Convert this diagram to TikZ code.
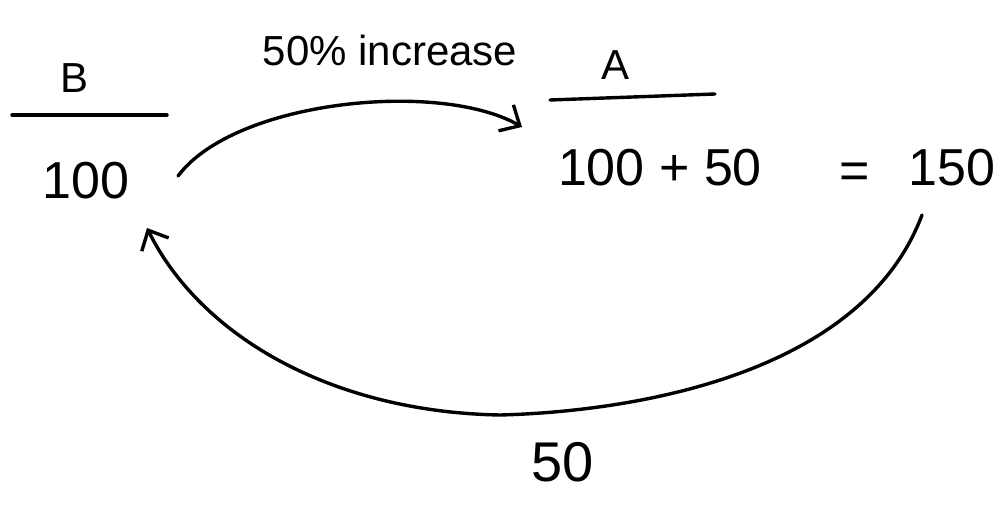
\documentclass[tikz,border=0pt]{standalone}
\usepackage{fontspec}
\setmainfont{Liberation Sans}
\usetikzlibrary{arrows.meta}
\begin{document}
\begin{tikzpicture}[x=1pt,y=-1pt,
  ink/.style={line width=3.4pt,line cap=round,line join=round,black},
  big/.style={font=\fontsize{52}{54}\selectfont,inner sep=0pt,anchor=center},
  mid/.style={font=\fontsize{42}{44}\selectfont,inner sep=0pt,anchor=center},
  tip/.style={-{Straight Barb[length=16pt,width=30pt,line width=3.4pt]}}]
\useasboundingbox (0,0) rectangle (1007,505);
\node[mid] (B) at (75,78) {B};
\draw[ink] (12,115) -- (167,115);
\node[big] (hB) at (86,181) {100};
\node[mid] (lab) at (390,50) {50\% increase};
\node[mid] (A) at (615,65) {A};
\draw[ink] (550,100) -- (715,94);
\node[big] (expr) at (660,168) {100 + 50};
\node[big] (eq) at (855,176) {=};
\node[big] (r) at (952,168) {150};
\node[font=\fontsize{56}{58}\selectfont,inner sep=0pt] (fifty) at (563,462) {50};
\coordinate (s1) at (178,176);
\coordinate (e1) at (522,127);
\coordinate (s2) at (922,215);
\coordinate (e2) at (147,228);
\draw[ink,tip] (s1) .. controls (235,100) and (440,80) .. (e1);
\draw[ink,tip] (s2) .. controls (860,380) and (620,412) .. (500,415)
  .. controls (330,412) and (200,335) .. (e2);
\end{tikzpicture}
\end{document}
